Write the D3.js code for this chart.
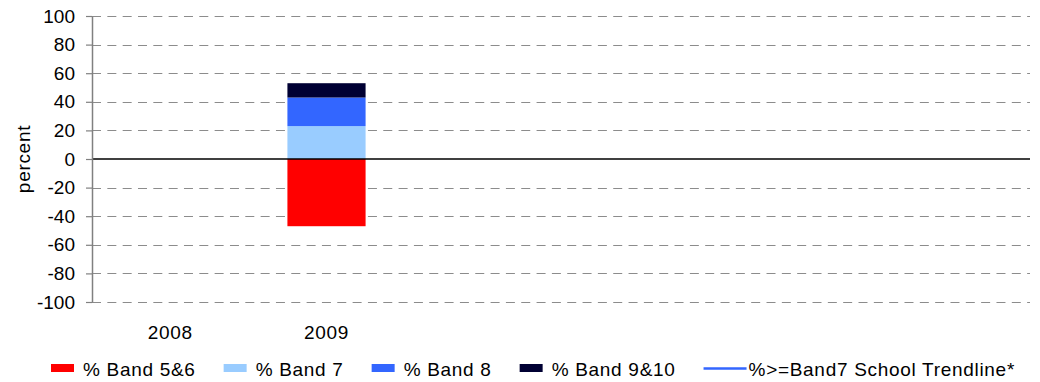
<!DOCTYPE html>
<html>
<head>
<meta charset="utf-8">
<script src="https://cdn.jsdelivr.net/npm/d3@7"></script>
<style>
    body { margin: 0; background: #fff; }
    text { font-family: "Liberation Sans", Arial, sans-serif; font-size: 19px; letter-spacing: 0.7px; fill: #000; }
</style>
</head>
<body>
<div id="chart"></div>
<script>
// category slots on the x axis (only two are labelled)
const categories = ['c1', 'c2', 'c3', 'c4', 'c5', 'c6'];
const tickLabels = ['2008', '2009', '', '', '', ''];

// percent per band (band 5&6 drawn below zero)
const band56 = [null, 47];
const band7 = [null, 23];
const band8 = [null, 20];
const band910 = [null, 10];
const trendline = [null, 53];

const yTicks = [-100, -80, -60, -40, -20, 0, 20, 40, 60, 80, 100];

const seriesNames = ['% Band 5&6', '% Band 7', '% Band 8', '% Band 9&10'];
const seriesColors = ['#ff0000', '#99ccff', '#3366ff', '#000033'];
const trendName = '%>=Band7 School Trendline*';
const trendColor = '#3366ff';

generate();

function generate() {
    const width = 1040, height = 382;
    const margin = {top: 16, right: 10, bottom: 80, left: 92};

    const svg = d3.select('div#chart')
        .append('svg')
        .attr('width', width)
        .attr('height', height);

    const x = d3.scaleBand()
        .domain(categories)
        .range([margin.left, width - margin.right])
        .paddingInner(0.5)
        .paddingOuter(0.25);

    const y = d3.scaleLinear()
        .domain([-100, 100])
        .range([302, margin.top]);

    // dashed grid
    svg.append('g')
        .selectAll('line')
        .data(yTicks.filter(d => d !== 0))
        .enter()
        .append('line')
        .attr('x1', margin.left)
        .attr('x2', width - margin.right)
        .attr('y1', d => Math.round(y(d)) + 0.5)
        .attr('y2', d => Math.round(y(d)) + 0.5)
        .style('stroke', '#8c8c8c')
        .style('stroke-width', 1)
        .style('stroke-dasharray', '9,6.33');

    // stacked bars
    const stacks = [];
    categories.forEach((c, i) => {
        if (band56[i] != null) {
            stacks.push({c, y0: 0, y1: -band56[i], color: seriesColors[0]});
        }
        let base = 0;
        [band7, band8, band910].forEach((s, k) => {
            if (s[i] != null) {
                stacks.push({c, y0: base, y1: base + s[i], color: seriesColors[k + 1]});
                base += s[i];
            }
        });
    });

    svg.append('g')
        .selectAll('rect')
        .data(stacks)
        .enter()
        .append('rect')
        .attr('x', d => x(d.c))
        .attr('width', x.bandwidth())
        .attr('y', d => y(Math.max(d.y0, d.y1)))
        .attr('height', d => Math.abs(y(d.y0) - y(d.y1)))
        .style('fill', d => d.color);

    // trendline (single point, so nothing visible)
    const line = d3.line()
        .defined(d => d != null)
        .x((d, i) => x(categories[i]) + x.bandwidth() / 2)
        .y(d => y(d));
    svg.append('path')
        .datum(trendline)
        .attr('d', line)
        .style('fill', 'none')
        .style('stroke', trendColor)
        .style('stroke-width', 2);

    // zero line
    svg.append('line')
        .attr('x1', margin.left)
        .attr('x2', width - margin.right)
        .attr('y1', y(0))
        .attr('y2', y(0))
        .style('stroke', '#000')
        .style('stroke-width', 1.3);

    // y axis
    const yAxis = svg.append('g')
        .attr('transform', `translate(${margin.left},0)`)
        .call(d3.axisLeft(y)
            .tickValues(yTicks)
            .tickFormat(d => String(d))
            .tickSize(6)
            .tickPadding(11)
            .tickSizeOuter(0));
    yAxis.select('.domain').style('stroke', '#808080').style('stroke-width', 1.5);
    yAxis.selectAll('.tick line').style('stroke', '#808080').style('stroke-width', 1.2);
    yAxis.selectAll('.tick text')
        .style('font-family', '"Liberation Sans", Arial, sans-serif')
        .style('font-size', '19px')
        .style('letter-spacing', '0px');

    // x labels
    svg.append('g')
        .selectAll('text')
        .data(categories)
        .enter()
        .append('text')
        .text((d, i) => tickLabels[i])
        .attr('x', d => x(d) + x.bandwidth() / 2)
        .attr('y', 339)
        .attr('text-anchor', 'middle');

    // y title
    svg.append('text')
        .text('percent')
        .attr('transform', `translate(30,${(y(100) + y(-100)) / 2}) rotate(-90)`)
        .attr('text-anchor', 'middle');

    // legend
    const legend = svg.append('g');
    let lx = 51;
    const items = seriesNames.map((n, i) => ({name: n, color: seriesColors[i], type: 'box'}))
        .concat([{name: trendName, color: trendColor, type: 'line'}]);
    items.forEach(it => {
        if (it.type === 'box') {
            legend.append('rect')
                .attr('x', lx).attr('y', 364)
                .attr('width', 23).attr('height', 8)
                .style('fill', it.color);
        } else {
            legend.append('line')
                .attr('x1', lx).attr('x2', lx + 43)
                .attr('y1', 368.5).attr('y2', 368.5)
                .style('stroke', it.color)
                .style('stroke-width', 2.5);
        }
        const off = it.type === 'box' ? 32 : 45;
        const t = legend.append('text')
            .text(it.name)
            .attr('x', lx + off)
            .attr('y', 375.5);
        lx += off + t.node().getComputedTextLength() + 28;
    });
}
</script>
</body>
</html>
